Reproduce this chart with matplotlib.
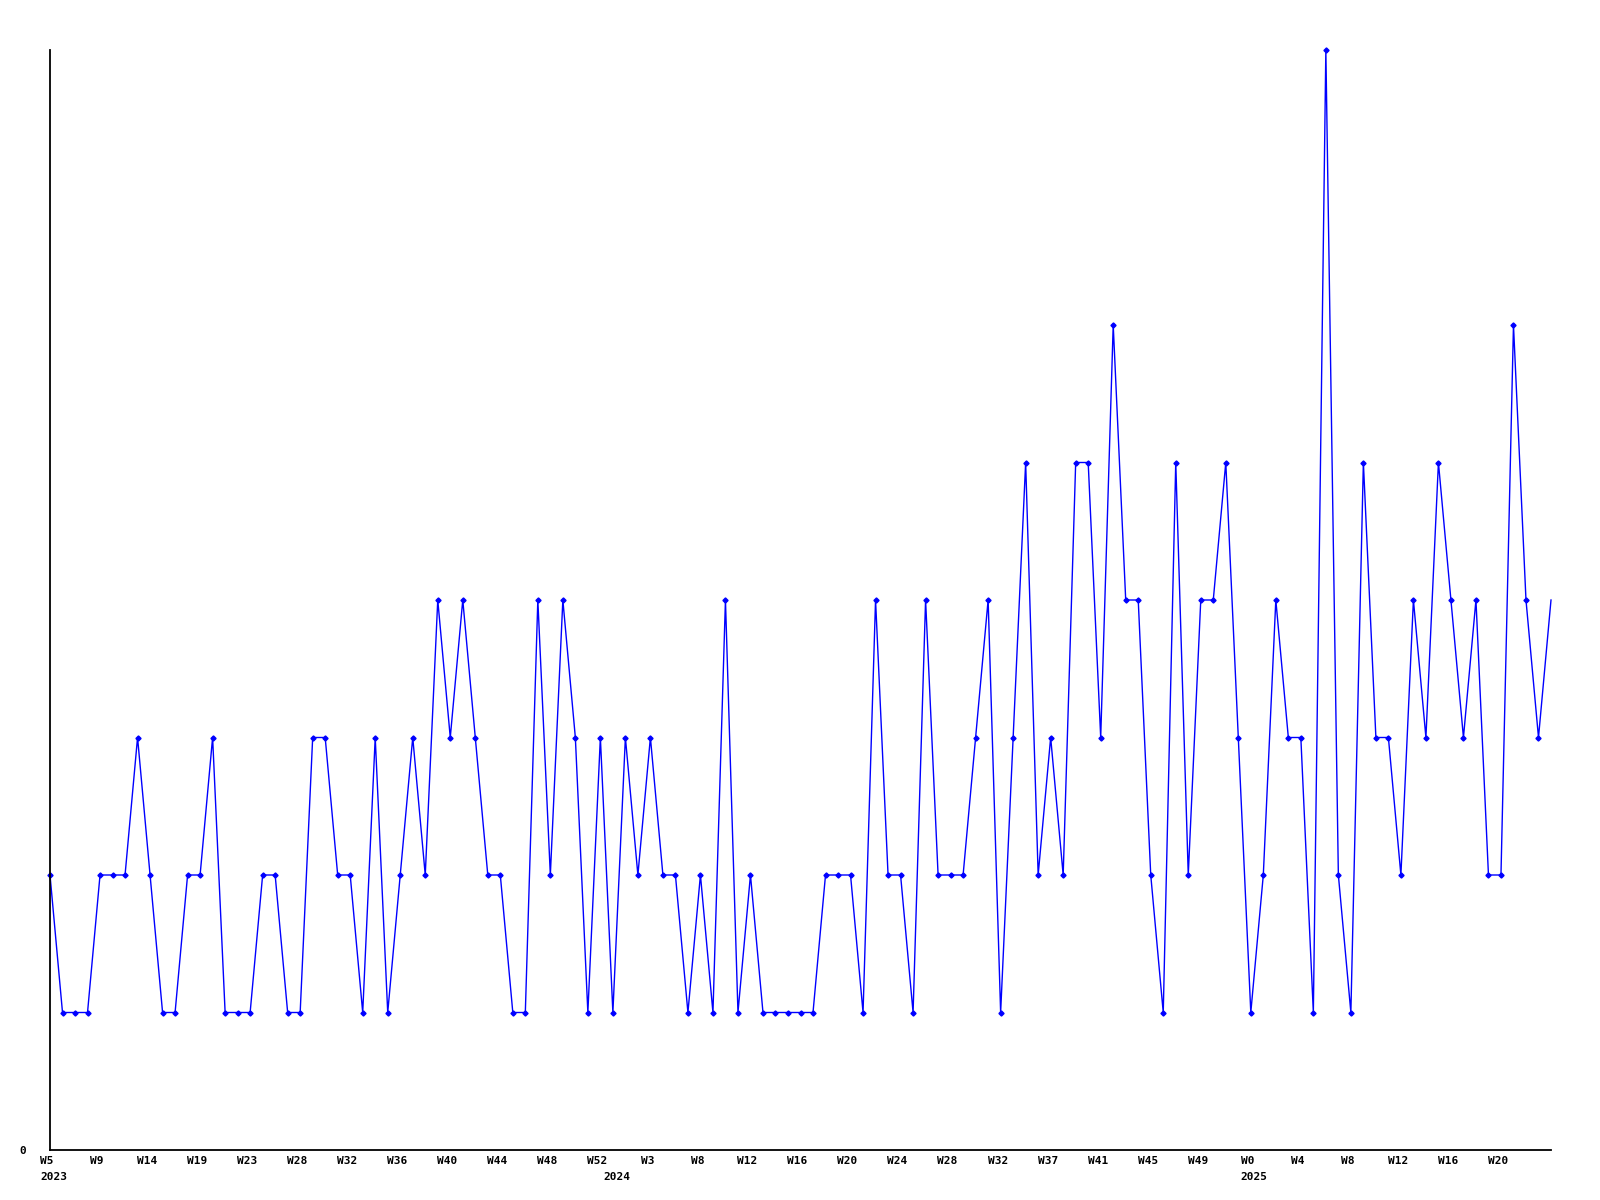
import matplotlib
matplotlib.use("Agg")
import matplotlib.pyplot as plt
import matplotlib.transforms as mtransforms

# weekly counts
values = [
    2, 1, 1, 1, 2, 2, 2, 3, 2, 1,
    1, 2, 2, 3, 1, 1, 1, 2, 2, 1,
    1, 3, 3, 2, 2, 1, 3, 1, 2, 3,
    2, 4, 3, 4, 3, 2, 2, 1, 1, 4,
    2, 4, 3, 1, 3, 1, 3, 2, 3, 2,
    2, 1, 2, 1, 4, 1, 2, 1, 1, 1,
    1, 1, 2, 2, 2, 1, 4, 2, 2, 1,
    4, 2, 2, 2, 3, 4, 1, 3, 5, 2,
    3, 2, 5, 5, 3, 6, 4, 4, 2, 1,
    5, 2, 4, 4, 5, 3, 1, 2, 4, 3,
    3, 1, 8, 2, 1, 5, 3, 3, 2, 4,
    3, 5, 4, 3, 4, 2, 2, 6, 4, 3,
    4,
]

week_labels = ["W5", "W9", "W14", "W19", "W23", "W28", "W32", "W36", "W40", "W44",
               "W48", "W52", "W3", "W8", "W12", "W16", "W20", "W24", "W28", "W32",
               "W37", "W41", "W45", "W49", "W0", "W4", "W8", "W12", "W16", "W20"]
label_step = 4

years = ["2023", "2024", "2025"]
year_pos = [0, 45, 96]

x = list(range(len(values)))

fig = plt.figure(figsize=(16, 12), dpi=100)
ax = fig.add_axes([50 / 1600, 50 / 1200, 1501 / 1600, 1100 / 1200])

ax.plot(x, values, color="#0000ff", lw=1.0, marker="D", ms=2.6,
        markevery=slice(0, len(values) - 1), clip_on=False)

ax.set_xlim(0, len(values) - 1)
ax.set_ylim(0, max(values))

for s in ["top", "right"]:
    ax.spines[s].set_visible(False)
for s in ["left", "bottom"]:
    ax.spines[s].set_linewidth(1.3)

font = dict(family="DejaVu Sans Mono", fontsize=8, fontweight="bold")

ax.set_xticks([i * label_step for i in range(len(week_labels))])
ax.set_xticklabels(week_labels, **font)
ax.set_yticks([0])
ax.set_yticklabels(["0"], **font)
ax.tick_params(axis="both", length=0)
ax.tick_params(axis="x", pad=4)
ax.tick_params(axis="y", pad=17)

# nudge the week labels a little left, like the original
shift = mtransforms.ScaledTranslation(-3 / 100, 0, fig.dpi_scale_trans)
for lbl in ax.get_xticklabels():
    lbl.set_transform(lbl.get_transform() + shift)

off = mtransforms.offset_copy(ax.get_xaxis_transform(), fig=fig, x=-10, y=-27, units="dots")
for yr, p in zip(years, year_pos):
    ax.text(p, 0, yr, transform=off, ha="left", va="center", **font)

fig.savefig("out.png", dpi=100)
